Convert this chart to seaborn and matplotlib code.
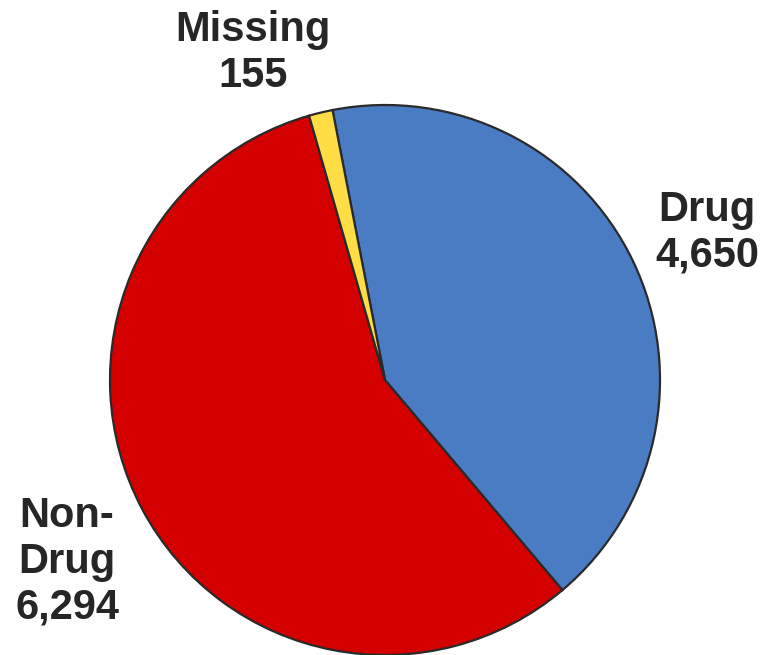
import matplotlib
matplotlib.use("Agg")
import matplotlib.pyplot as plt
import seaborn as sns

categories = ["Drug", "Non-\nDrug", "Missing"]
values = [4650, 6294, 155]
colors = ["#4A7CC4", "#D40000", "#FFDD44"]

sns.set_theme(style="white")
plt.rcParams["font.family"] = ["Liberation Sans", "DejaVu Sans"]

fig = plt.figure(figsize=(7.63, 6.55), dpi=100)
ax = fig.add_axes([110 / 763, 0.0, 550 / 763, 550 / 655])

wedges, _ = ax.pie(values, colors=colors, startangle=101, counterclock=False,
                   radius=1.0,
                   wedgeprops=dict(edgecolor="#2a2a2a", linewidth=1.6))
ax.set_xlim(-1, 1)
ax.set_ylim(-1, 1)
ax.set_aspect("equal")
ax.axis("off")
for w in wedges:
    w.set_clip_on(False)

label_pos = [(1.171, 0.535), (-1.156, -0.66), (-0.48, 1.19)]
for cat, val, (x, y) in zip(categories, values, label_pos):
    ax.text(x, y, f"{cat}\n{val:,}", ha="center", va="center",
            fontsize=30, fontweight="bold", color="#262626",
            linespacing=1.18, clip_on=False)

fig.savefig("out.png", dpi=100)
